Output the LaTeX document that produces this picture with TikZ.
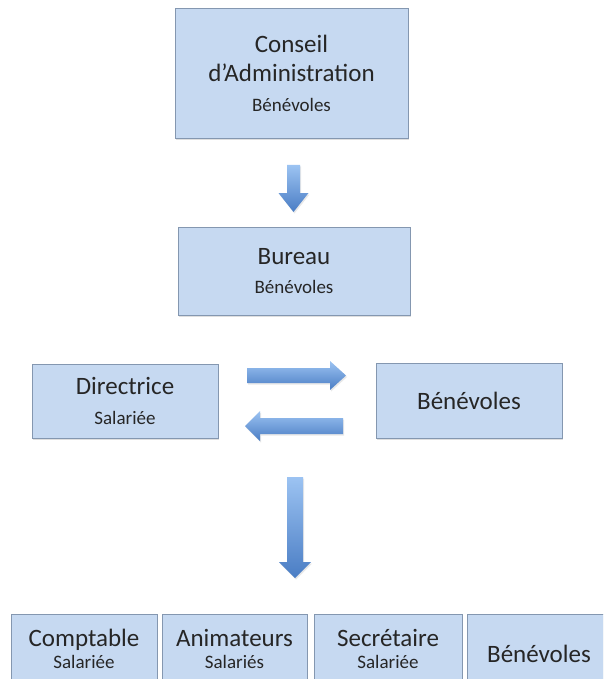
\documentclass[tikz,border=0pt]{standalone}
\usepackage{fontspec}
\setmainfont{Carlito}
\usetikzlibrary{shadows}
\definecolor{boxfill}{HTML}{C6D9F1}
\definecolor{boxline}{HTML}{8497B0}
\definecolor{txt}{HTML}{262626}
\definecolor{arrtop}{HTML}{9CC3F2}
\definecolor{arrbot}{HTML}{4A7DC4}
\newcommand\subline[1]{{\fontsize{19}{22}\selectfont #1}}
\begin{document}
\begin{tikzpicture}[x=1pt,y=-1pt,
  box/.style={rectangle, draw=boxline, line width=0.8pt, fill=boxfill, text=txt,
    align=center, inner sep=0pt,
    drop shadow={shadow xshift=1pt, shadow yshift=-2pt, opacity=0.25}},
  upper/.style={font=\fontsize{25}{29.5}\selectfont},
  lower/.style={font=\fontsize{25}{22}\selectfont},
  blk/.style={top color=arrtop, bottom color=arrbot, draw=none,
    drop shadow={shadow xshift=1pt, shadow yshift=-1.5pt, opacity=0.18}}]
\useasboundingbox (0,0) rectangle (603,679);
\clip (0,0) rectangle (603,679);
\fill[white] (0,0) rectangle (603,679);

% boxes
\node[box, upper, minimum width=233pt, minimum height=130pt] (conseil) at (291.5,73)
  {Conseil\\d’Administration\\\subline{Bénévoles}};
\node[box, upper, minimum width=232pt, minimum height=88pt] (bureau) at (294,271)
  {Bureau\\\subline{Bénévoles}};
\node[box, upper, minimum width=186pt, minimum height=74pt] (directrice) at (125,401)
  {Directrice\\\subline{Salariée}};
\node[box, upper, minimum width=186pt, minimum height=75pt] (benevm) at (469,400.5)
  {Bénévoles};
\node[box, lower, minimum width=146pt, minimum height=70pt] (comptable) at (84,649)
  {Comptable\\\subline{Salariée}};
\node[box, lower, minimum width=145pt, minimum height=70pt] (animateurs) at (234.5,649)
  {Animateurs\\\subline{Salariés}};
\node[box, lower, minimum width=148pt, minimum height=70pt] (secretaire) at (388,649)
  {Secrétaire\\\subline{Salariée}};
\node[box, lower, minimum width=144pt, minimum height=80pt] (benevb) at (539,654)
  {Bénévoles};

% block arrows
\shade[blk] (287,165) -- (300,165) -- (300,193) -- (308.5,193) -- (293.5,212)
  -- (278.5,193) -- (287,193) -- cycle;
\shade[blk] (247,368) -- (330,368) -- (330,361) -- (346,375.5) -- (330,390)
  -- (330,383) -- (247,383) -- cycle;
\shade[blk] (343,418) -- (260,418) -- (260,411) -- (245,426) -- (260,441)
  -- (260,434) -- (343,434) -- cycle;
\shade[blk] (287,477) -- (303,477) -- (303,562) -- (311,562) -- (295,578)
  -- (279,562) -- (287,562) -- cycle;
\end{tikzpicture}
\end{document}
